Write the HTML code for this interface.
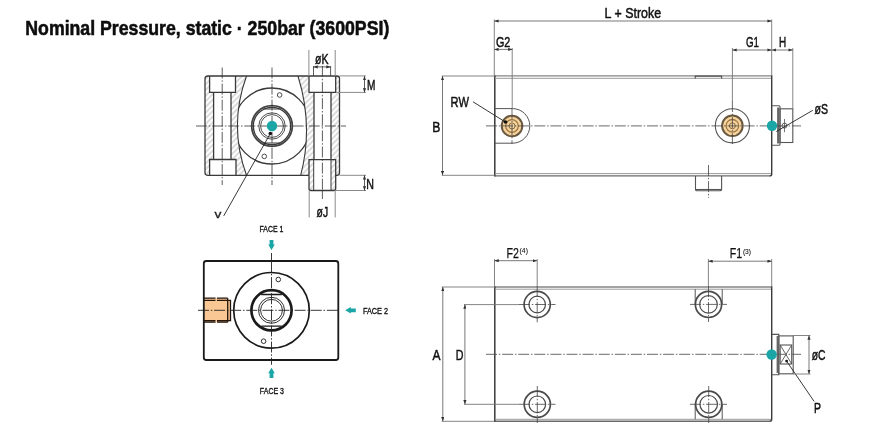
<!DOCTYPE html>
<html><head><meta charset="utf-8"><style>
html,body{margin:0;padding:0;background:#fff;}
svg{display:block;will-change:transform;}
text{font-family:"Liberation Sans",sans-serif;}
</style></head><body>
<svg width="870" height="435" viewBox="0 0 870 435">
<defs>
<pattern id="hp" width="4" height="4" patternUnits="userSpaceOnUse" patternTransform="rotate(45)">
<line x1="1" y1="-1" x2="1" y2="5" stroke="#9a9a9a" stroke-width="0.7"/>
</pattern>
<marker id="ar" viewBox="0 0 8 6" refX="8" refY="3" markerWidth="4.5" markerHeight="3.2" orient="auto-start-reverse" markerUnits="userSpaceOnUse">
<path d="M0,0 L8,3 L0,6 z" fill="#333"/>
</marker>
<clipPath id="midclip"><path d="M246.5,76 Q228.3,126 246.5,175.3 H300.7 Q313.6,126 298,76 Z"/></clipPath>
</defs>

<!-- Title -->
<text x="25.3" y="34.6" font-size="20.8" font-weight="bold" fill="#0d0d0d" stroke="#0d0d0d" stroke-width="0.55" textLength="364" lengthAdjust="spacingAndGlyphs">Nominal Pressure, static · 250bar (3600PSI)</text>

<!-- ================= TOP-LEFT VIEW ================= -->
<g id="tl">
<!-- hatch regions -->
<path fill="url(#hp)" d="M205,78 L209.6,76 V92.4 H213.6 V159.5 H209.6 V175.3 L205,173 Z"/>
<path fill="url(#hp)" d="M235.5,76 H246.5 Q228.3,126 246.5,175.3 H236 V159.5 H231 V92.4 H235.5 Z"/>
<path fill="url(#hp)" d="M298,76 H309 V92.4 H314 V159.6 H309 V175.3 H300.7 Q313.6,126 298,76 Z"/>
<path fill="url(#hp)" d="M336,76 H338 L339.5,78 V173 L338,175.3 H336 V159.6 H331 V92.4 H336 Z"/>
<path fill="url(#hp)" d="M309,159.6 H313.7 V190.5 H309 Z M331,159.6 H335.7 V190.5 H331 Z"/>

<g fill="none" stroke="#3a3a3a" stroke-width="1.3">
<!-- body outline -->
<path d="M309,175.3 H208 Q205,175.3 205,172.8 V79 Q205,76 208,76 H337 Q339.5,76 339.5,78.5 V172.8 Q339.5,175.3 337,175.3 H335.7"/>
<!-- counterbores -->
<path d="M209.6,76 V92.4 H235.5 V76"/>
<path d="M209.6,175.3 V159.5 H236 V175.3"/>
<path d="M309,76 V92.4 H335.7 V76"/>
<!-- bores -->
<path d="M213.6,92.4 V159.5 M231,92.4 V159.5 M314,92.4 V159.6 M331,92.4 V159.6"/>
<!-- boss -->
<path d="M309,159.6 H335.7 V188.5 Q335.7,190.5 333.7,190.5 H311 Q309,190.5 309,188.5 Z"/>
<path d="M313.7,159.6 V190.5 M331,159.6 V190.5" stroke-width="1"/>
<!-- slanted -->
<path d="M246.5,76 Q228.3,126 246.5,175.3 M298,76 Q313.6,126 300.7,175.3" stroke-width="1.1"/>
<!-- big circle clipped -->
<circle cx="272" cy="126" r="38" clip-path="url(#midclip)" stroke-width="1.4"/>
<!-- ring -->
<circle cx="272" cy="126" r="20.3" stroke-width="1.8" stroke="#444"/>
<circle cx="272" cy="126" r="18.7" stroke-width="1.3"/>
<path d="M263.5,109 H280.5 M263.5,143 H280.5" stroke-width="1.1"/>
<circle cx="272" cy="126" r="13.2" stroke-width="0.9"/>
<circle cx="272" cy="126" r="11.4" stroke-width="0.9"/>
<circle cx="279.6" cy="95" r="2.3" stroke-width="0.9"/>
<circle cx="264.3" cy="156.4" r="2.3" stroke-width="0.9"/>
</g>
<!-- center lines -->
<g stroke="#333" stroke-width="0.8" stroke-dasharray="11 1.8 1.5 1.8" fill="none">
<path d="M196,126 H346"/>
<path d="M272,67.5 V185"/>
<path d="M222.2,67.5 V185"/>
<path d="M322.4,66 V190.5"/>
<path d="M322.4,190.5 V199" stroke-dasharray="none"/>
</g>
<circle cx="272" cy="126" r="5.2" fill="#1aa6a6"/>
<circle cx="270.3" cy="133.5" r="1.8" fill="#111"/>
<path d="M270.3,133.5 L223.7,215.9" stroke="#222" stroke-width="0.9"/>
<text x="214.6" y="217.8" font-size="11.3" fill="#1a1a1a" stroke="#1a1a1a" stroke-width="0.3" textLength="6.9" lengthAdjust="spacingAndGlyphs">v</text>

<!-- dims -->
<g stroke="#8a8a8a" stroke-width="1" fill="none">
<path d="M308.9,50 V76 M335.2,50 V76"/>
<path d="M339.5,75.9 H366 M336,92.4 H366"/>
<path d="M339.5,175.3 H366 M336,190.5 H366"/>
<path d="M309.2,190.5 V217.4 M335.2,190.5 V217.4"/>
</g>
<g stroke="#333" stroke-width="0.8" fill="none">
<path d="M313.5,66 V76 M330.6,66 V76"/>
<path d="M313.5,66.9 H330.6" marker-start="url(#ar)" marker-end="url(#ar)"/>
<path d="M364.5,76 V92.4" marker-start="url(#ar)" marker-end="url(#ar)"/>
<path d="M364.5,175.3 V190.5" marker-start="url(#ar)" marker-end="url(#ar)"/>
</g>
<g font-size="15.5" fill="#111" stroke="#111" stroke-width="0.5">
<text x="315.1" y="63.9" textLength="13.5" lengthAdjust="spacingAndGlyphs">øK</text>
<text x="366.9" y="89.7" textLength="8.4" lengthAdjust="spacingAndGlyphs">M</text>
<text x="366.3" y="189" textLength="7.7" lengthAdjust="spacingAndGlyphs">N</text>
<text x="316.6" y="216.7" textLength="11.5" lengthAdjust="spacingAndGlyphs">øJ</text>
</g>
</g>

<!-- ================= BOTTOM-LEFT VIEW ================= -->
<g id="bl">
<!-- orange port -->
<path d="M204,298.2 H227.7 V300.3 H230.5 V320.6 H227.7 V322.2 H204 Z" fill="#f9c794"/>
<g stroke="#24160a" stroke-width="1.3" fill="none">
<path d="M204,298.2 H227.7 M204,300.3 H227.7 M204,320.6 H227.7 M204,322.2 H227.7" stroke-dasharray="11.5 1.5"/>
<path d="M227.7,298.2 V322.2 M227.7,300.3 H230.5 V320.6 H227.7"/>
</g>
<g fill="none" stroke="#1a1a1a">
<rect x="203.8" y="261" width="134.5" height="99" rx="2.5" stroke-width="1.8"/>
<circle cx="271.5" cy="310.3" r="37.8" stroke-width="1.7"/>
<circle cx="271.5" cy="310.3" r="20.1" stroke-width="2.7"/>
<path d="M261.2,294.5 H281.8 M261.2,326.1 H281.8" stroke-width="1.3"/>
<circle cx="271.5" cy="310.3" r="13" stroke-width="0.9"/>
<circle cx="271.5" cy="310.3" r="10.9" stroke-width="0.9"/>
<circle cx="278.3" cy="279.5" r="2.3" stroke-width="0.9"/>
<circle cx="263.6" cy="341.2" r="2.3" stroke-width="0.9"/>
</g>
<g stroke="#222" stroke-width="0.9" stroke-dasharray="11 1.8 1.5 1.8" fill="none">
<path d="M198,310.3 H339.5"/>
<path d="M271.5,261 V360"/>
<path d="M271.5,253 V261 M271.5,360 V364.8" stroke-dasharray="none"/>
</g>
<!-- teal arrows -->
<g fill="#1aa6a6">
<path d="M269.6,240 H273.4 V244.6 H274.8 L271.5,250 L268.2,244.6 H269.6 Z"/>
<path d="M269.6,378 H273.4 V373.3 H274.8 L271.5,367.8 L268.2,373.3 H269.6 Z"/>
<path d="M355.8,308.4 V312.2 H350.8 V313.6 L345.2,310.3 L350.8,307 V308.4 Z"/>
</g>
<g font-size="9.6" fill="#111" stroke="#111" stroke-width="0.35">
<text x="259.5" y="232" textLength="23.9" lengthAdjust="spacingAndGlyphs">FACE 1</text>
<text x="362.9" y="313.9" textLength="25.2" lengthAdjust="spacingAndGlyphs">FACE 2</text>
<text x="259.8" y="393.9" textLength="24.2" lengthAdjust="spacingAndGlyphs">FACE 3</text>
</g>
</g>

<!-- ================= TOP-RIGHT VIEW ================= -->
<g id="tr">
<g fill="none" stroke="#555" stroke-width="1.1">
<path d="M494.8,75.9 H771.7" stroke="#858585" stroke-width="1.4"/>
<path d="M494.8,175.9 H770" stroke="#6a6a6a" stroke-width="1.4"/>
<path d="M496,78.3 H771 M496,173.6 H771" stroke="#9a9a9a" stroke-width="1"/>
<path d="M494.8,75.2 V176.5" stroke="#3a3a3a" stroke-width="1.5"/>
<path d="M771.7,75.2 V174 Q771.7,175.9 769.8,175.9" stroke="#3a3a3a" stroke-width="1.4"/>
<path d="M695.3,78.6 V76.2 H721.6 V78.6" stroke="#555" stroke-width="1.2"/>
<path d="M695.5,175.9 V189.5 Q695.5,190.8 697,190.8 H720 Q721.6,190.8 721.6,189.5 V175.9"/>
<path d="M696,189.5 H721"/>
<!-- left port D shape -->
<path d="M494.8,108.6 H512.5 A17.3,17.3 0 0 1 512.5,143.2 H494.8" stroke-width="1"/>
<!-- right port circle -->
<circle cx="732.4" cy="125.8" r="17.1" stroke-width="1.1"/>
<!-- rod end -->
<path d="M771.7,105.7 H779 Q780,105.7 780,106.7 V144.3 Q780,145.3 779,145.3 H771.7"/>
<rect x="780" y="108.8" width="12.8" height="33.7"/>
<path d="M778.2,107.5 V143.5" stroke="#666" stroke-width="2.2"/>
<circle cx="784.5" cy="125.6" r="2.5" stroke-width="0.9"/>
<path d="M784.5,119 V132.2" stroke-width="0.8"/>
</g>
<!-- fittings -->
<g>
<circle cx="512" cy="126" r="10.3" fill="#f6d49c" stroke="#6a5840" stroke-width="2"/>
<circle cx="512" cy="126" r="6.3" fill="none" stroke="#a07848" stroke-width="1.3"/>
<circle cx="512" cy="126" r="3" fill="none" stroke="#7a6040" stroke-width="0.9"/>
<circle cx="732.4" cy="125.8" r="10.3" fill="#f6d49c" stroke="#6a5840" stroke-width="2"/>
<circle cx="732.4" cy="125.8" r="6.3" fill="none" stroke="#a07848" stroke-width="1.3"/>
<circle cx="732.4" cy="125.8" r="3" fill="none" stroke="#7a6040" stroke-width="0.9"/>
</g>
<g stroke="#444" stroke-width="0.8" stroke-dasharray="11 1.8 1.5 1.8" fill="none">
<path d="M486,125.9 H801"/>
<path d="M512,108 V144"/>
<path d="M732.4,101 V144"/>
<path d="M708.5,165 V198"/>
</g>
<circle cx="772" cy="125.7" r="5.2" fill="#1aa6a6"/>
<!-- RW leader -->
<path d="M473,101.8 L505,121.8" stroke="#222" stroke-width="0.9"/>
<circle cx="505.5" cy="122" r="1.8" fill="#111"/>
<!-- øS leader -->
<path d="M812.8,110.3 L776.3,131.5" stroke="#222" stroke-width="0.9"/>
<!-- dims -->
<g stroke="#777" stroke-width="0.9" fill="none">
<path d="M494.3,19.5 V76 M771.7,19.5 V76"/>
<path d="M512.2,48 V108.6 M732.4,48 V101.7 M792.8,48 V108.8"/>
<path d="M441.8,76 H494.8 M441.8,175.3 H494.8"/>
</g>
<g stroke="#555" stroke-width="0.8" fill="none">
<path d="M494.3,21 H771.7" marker-start="url(#ar)" marker-end="url(#ar)"/>
<path d="M494.3,49.4 H512.4" marker-start="url(#ar)" marker-end="url(#ar)"/>
<path d="M732.4,50 H771.7" marker-start="url(#ar)" marker-end="url(#ar)"/>
<path d="M771.7,50 H792.8" marker-start="url(#ar)" marker-end="url(#ar)"/>
<path d="M442.5,76 V175.2" marker-start="url(#ar)" marker-end="url(#ar)"/>
</g>
<g font-size="15.5" fill="#111" stroke="#111" stroke-width="0.5">
<text x="604.6" y="17.9" textLength="56.5" lengthAdjust="spacingAndGlyphs">L + Stroke</text>
<text x="495.9" y="47.1" textLength="14.4" lengthAdjust="spacingAndGlyphs">G2</text>
<text x="745.9" y="46.9" textLength="13" lengthAdjust="spacingAndGlyphs">G1</text>
<text x="779" y="46.9" textLength="7.2" lengthAdjust="spacingAndGlyphs">H</text>
<text x="432.2" y="131.5" textLength="8.1" lengthAdjust="spacingAndGlyphs">B</text>
<text x="450.6" y="106.7" textLength="18.3" lengthAdjust="spacingAndGlyphs">RW</text>
<text x="814.6" y="113.8" textLength="13.5" lengthAdjust="spacingAndGlyphs">øS</text>
</g>
</g>

<!-- ================= BOTTOM-RIGHT VIEW ================= -->
<g id="br">
<g fill="none" stroke="#555" stroke-width="1.1">
<path d="M494.8,287 H771.7" stroke="#858585" stroke-width="1.4"/>
<path d="M494.8,421.2 H770" stroke="#6a6a6a" stroke-width="1.4"/>
<path d="M496,289.2 H771 M496,419.3 H771" stroke="#9a9a9a" stroke-width="1"/>
<path d="M494.8,286.3 V421.9" stroke="#3a3a3a" stroke-width="1.5"/>
<path d="M771.7,286.3 V419.3 Q771.7,421.2 769.8,421.2" stroke="#3a3a3a" stroke-width="1.4"/>
<path d="M695.2,289.2 V304.4 M722.2,289.2 V304.4 M695.2,404.3 V419.3 M722.2,404.3 V419.3" stroke-width="1"/>
</g>
<g fill="none" stroke="#4a4a4a">
<circle cx="537.2" cy="304.5" r="13.1" stroke-width="1.7"/>
<circle cx="537.2" cy="304.5" r="8.3" stroke-width="1.2"/>
<circle cx="708.5" cy="304.4" r="13.1" stroke-width="1.7"/>
<circle cx="708.5" cy="304.4" r="8.8" stroke-width="1.2"/>
<circle cx="537.3" cy="404.3" r="13.1" stroke-width="1.7"/>
<circle cx="537.3" cy="404.3" r="8.3" stroke-width="1.2"/>
<circle cx="708.7" cy="404.3" r="13.1" stroke-width="1.7"/>
<circle cx="708.7" cy="404.3" r="8.8" stroke-width="1.2"/>
</g>
<g stroke="#444" stroke-width="0.8" stroke-dasharray="11 1.8 1.5 1.8" fill="none">
<path d="M486,354.3 H801"/>
<path d="M519,304.5 H555.5 M690,304.4 H727 M519,404.3 H555.5 M690,404.3 H727"/>
<path d="M537.2,286 V322.3 M708.5,286 V322 M537.3,386 V423 M708.7,386 V423"/>
</g>
<g fill="none" stroke="#555" stroke-width="1.1">
<path d="M771.7,334.4 H778.8 V374.7 H771.7"/>
<rect x="778.8" y="335.9" width="14.4" height="37.9"/>
<rect x="780.2" y="345" width="11.5" height="19"/>
<path d="M777.6,336 V373" stroke="#666" stroke-width="2"/>
<path d="M780.2,345 L791.7,364 M791.7,345 L780.2,364" stroke-width="0.9"/>
</g>
<circle cx="771.6" cy="354.5" r="5.2" fill="#1aa6a6"/>
<circle cx="786.6" cy="361.1" r="1.4" fill="#111"/>
<path d="M786.6,361.1 L814.1,401.4" stroke="#222" stroke-width="0.9"/>
<!-- dims -->
<g stroke="#777" stroke-width="0.9" fill="none">
<path d="M494.5,259 V287 M537.2,259 V286 M708.4,259 V286 M771.7,259 V287"/>
<path d="M441.7,287 H494.8 M441.7,421.3 H494.8"/>
<path d="M464,304.6 H519 M464,404.3 H519"/>
<path d="M793.2,335.5 H810.4 M793.2,374 H810.4"/>
</g>
<g stroke="#555" stroke-width="0.8" fill="none">
<path d="M494.5,260.7 H537.2" marker-start="url(#ar)" marker-end="url(#ar)"/>
<path d="M708.4,261.2 H771.7" marker-start="url(#ar)" marker-end="url(#ar)"/>
<path d="M442.8,287 V421.3" marker-start="url(#ar)" marker-end="url(#ar)"/>
<path d="M464.9,304.6 V404.3" marker-start="url(#ar)" marker-end="url(#ar)"/>
<path d="M809,335.5 V374" marker-start="url(#ar)" marker-end="url(#ar)"/>
</g>
<g font-size="15.5" fill="#111" stroke="#111" stroke-width="0.5">
<text x="506.6" y="257.6" stroke-width="0.25" textLength="12.4" lengthAdjust="spacingAndGlyphs">F2</text>
<text x="519.6" y="253.4" font-size="8" stroke-width="0.1" textLength="8.3" lengthAdjust="spacingAndGlyphs">(4)</text>
<text x="729.8" y="257.9" stroke-width="0.25" textLength="12.4" lengthAdjust="spacingAndGlyphs">F1</text>
<text x="742.9" y="254.2" font-size="8" stroke-width="0.1" textLength="8.1" lengthAdjust="spacingAndGlyphs">(3)</text>
<text x="432.5" y="360.2" textLength="8" lengthAdjust="spacingAndGlyphs">A</text>
<text x="455.7" y="360.2" textLength="7.7" lengthAdjust="spacingAndGlyphs">D</text>
<text x="811.8" y="360.3" textLength="13.8" lengthAdjust="spacingAndGlyphs">øC</text>
<text x="814" y="413.4" textLength="7" lengthAdjust="spacingAndGlyphs">P</text>
</g>
</g>
</svg>
</body></html>
